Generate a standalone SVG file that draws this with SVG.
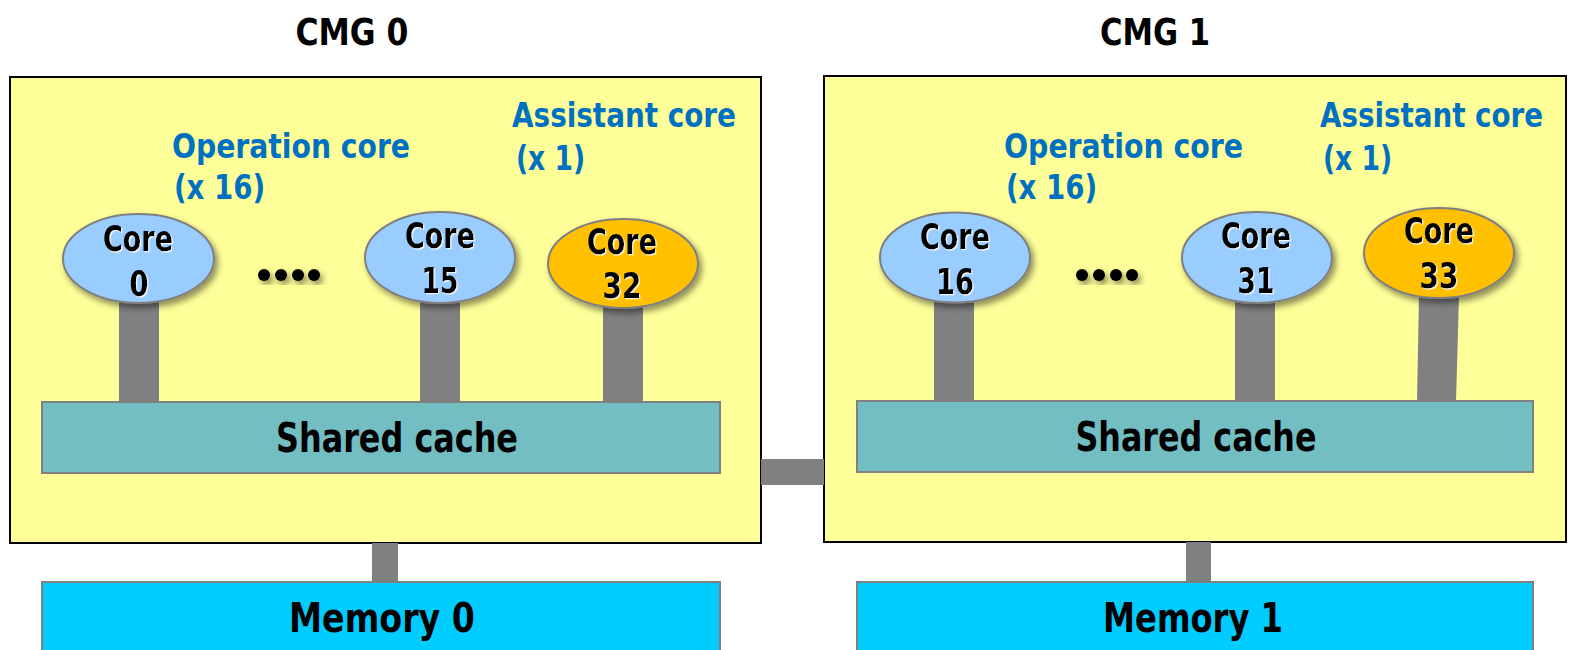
<svg xmlns="http://www.w3.org/2000/svg" width="1571" height="650" viewBox="0 0 1571 650">
  <defs>
    <filter id="shadow" x="-20%" y="-20%" width="150%" height="150%">
      <feDropShadow dx="3" dy="4" stdDeviation="3" flood-color="#000" flood-opacity="0.45"/>
    </filter>
    <filter id="glow" x="-10%" y="-10%" width="130%" height="130%">
      <feDropShadow dx="1.2" dy="1.2" stdDeviation="0.6" flood-color="#fff" flood-opacity="0.9"/>
    </filter>
    <style>
      text { font-family: "DejaVu Sans Condensed", "DejaVu Sans", "Liberation Sans", sans-serif; font-weight: bold; }
      .title { font-size: 38px; fill: #000; text-anchor: middle; }
      .label { font-size: 34px; fill: #0070C0; }
      .core-text { font-size: 35px; fill: #000; text-anchor: middle; filter: url(#glow); }
      .big { font-size: 41px; fill: #000; text-anchor: middle; }
      .cmg { fill: #FFFF99; stroke: #000; stroke-width: 2; }
      .cache { fill: #72BEC3; stroke: #808080; stroke-width: 2; }
      .memory { fill: #00CCFF; stroke: #808080; stroke-width: 2; }
      .op { fill: #99CCFF; stroke: #7F7F7F; stroke-width: 2; filter: url(#shadow); }
      .as { fill: #FFC000; stroke: #7F7F7F; stroke-width: 2; filter: url(#shadow); }
      .bus { fill: #808080; }
      .dot { fill: #000; }
    </style>
  </defs>

  <rect width="1571" height="650" fill="#fff"/>

  <!-- CMG containers -->
  <g id="cmg0">
    <rect class="cmg" x="10" y="77" width="751" height="466"/>
    <text class="title" x="352" y="45" textLength="113" lengthAdjust="spacingAndGlyphs">CMG 0</text>
    <text class="label" x="172" y="158" textLength="238" lengthAdjust="spacingAndGlyphs">Operation core</text>
    <text class="label" x="174" y="199" textLength="91" lengthAdjust="spacingAndGlyphs">(x 16)</text>
    <text class="label" x="512" y="127" textLength="224" lengthAdjust="spacingAndGlyphs">Assistant core</text>
    <text class="label" x="516" y="170" textLength="69" lengthAdjust="spacingAndGlyphs">(x 1)</text>
  </g>
  <g id="cmg1">
    <rect class="cmg" x="824" y="76" width="742" height="466"/>
    <text class="title" x="1155" y="45" textLength="110" lengthAdjust="spacingAndGlyphs">CMG 1</text>
    <text class="label" x="1004" y="158" textLength="239" lengthAdjust="spacingAndGlyphs">Operation core</text>
    <text class="label" x="1006" y="199" textLength="91" lengthAdjust="spacingAndGlyphs">(x 16)</text>
    <text class="label" x="1320" y="127" textLength="223" lengthAdjust="spacingAndGlyphs">Assistant core</text>
    <text class="label" x="1323" y="170" textLength="69" lengthAdjust="spacingAndGlyphs">(x 1)</text>
  </g>

  <!-- Bus links -->
  <g id="connectors">
    <rect class="bus" x="119" y="300" width="40" height="102"/>
    <rect class="bus" x="420" y="300" width="40" height="102"/>
    <rect class="bus" x="603" y="305" width="40" height="97"/>
    <rect class="bus" x="934" y="300" width="40" height="102"/>
    <rect class="bus" x="1235" y="300" width="40" height="102"/>
    <polygon class="bus" points="1419,295 1459,295 1456,402 1417,402"/>
    <rect class="bus" x="761" y="459" width="63" height="26"/>
    <rect class="bus" x="372" y="543" width="26" height="39"/>
    <rect class="bus" x="1186" y="542" width="25" height="40"/>
  </g>

  <!-- Shared caches -->
  <g id="cache0">
    <rect class="cache" x="42" y="402" width="678" height="71"/>
    <text class="big" x="397" y="452" textLength="242" lengthAdjust="spacingAndGlyphs">Shared cache</text>
  </g>
  <g id="cache1">
    <rect class="cache" x="857" y="401" width="676" height="71"/>
    <text class="big" x="1196" y="451" textLength="241" lengthAdjust="spacingAndGlyphs">Shared cache</text>
  </g>

  <!-- Memories -->
  <g id="memory0">
    <rect class="memory" x="42" y="582" width="678" height="70"/>
    <text class="big" x="382" y="632" textLength="186" lengthAdjust="spacingAndGlyphs">Memory 0</text>
  </g>
  <g id="memory1">
    <rect class="memory" x="857" y="582" width="676" height="70"/>
    <text class="big" x="1193" y="632" textLength="180" lengthAdjust="spacingAndGlyphs">Memory 1</text>
  </g>

  <!-- Cores -->
  <g id="core0">
    <ellipse class="op" cx="138.5" cy="258.5" rx="75.5" ry="44.5"/>
    <text class="core-text" x="138" y="251" textLength="70" lengthAdjust="spacingAndGlyphs">Core</text>
    <text class="core-text" x="139" y="296" textLength="19" lengthAdjust="spacingAndGlyphs">0</text>
  </g>
  <g id="core15">
    <ellipse class="op" cx="440" cy="257.5" rx="75" ry="45.5"/>
    <text class="core-text" x="440" y="248" textLength="70" lengthAdjust="spacingAndGlyphs">Core</text>
    <text class="core-text" x="440" y="293" textLength="37" lengthAdjust="spacingAndGlyphs">15</text>
  </g>
  <g id="core32">
    <ellipse class="as" cx="623" cy="263.5" rx="75" ry="44.5"/>
    <text class="core-text" x="622" y="254" textLength="70" lengthAdjust="spacingAndGlyphs">Core</text>
    <text class="core-text" x="622" y="298" textLength="39" lengthAdjust="spacingAndGlyphs">32</text>
  </g>
  <g id="core16">
    <ellipse class="op" cx="955" cy="257.5" rx="75" ry="45"/>
    <text class="core-text" x="955" y="249" textLength="70" lengthAdjust="spacingAndGlyphs">Core</text>
    <text class="core-text" x="955" y="294" textLength="38" lengthAdjust="spacingAndGlyphs">16</text>
  </g>
  <g id="core31">
    <ellipse class="op" cx="1257" cy="257.5" rx="75" ry="45.5"/>
    <text class="core-text" x="1256" y="248" textLength="70" lengthAdjust="spacingAndGlyphs">Core</text>
    <text class="core-text" x="1256" y="293" textLength="37" lengthAdjust="spacingAndGlyphs">31</text>
  </g>
  <g id="core33">
    <ellipse class="as" cx="1439" cy="253" rx="75" ry="45"/>
    <text class="core-text" x="1439" y="243" textLength="70" lengthAdjust="spacingAndGlyphs">Core</text>
    <text class="core-text" x="1439" y="288" textLength="39" lengthAdjust="spacingAndGlyphs">33</text>
  </g>

  <!-- Ellipsis dots between cores -->
  <g id="dots0" filter="url(#shadow)">
    <circle class="dot" cx="264" cy="275" r="6"/>
    <circle class="dot" cx="281" cy="275" r="6"/>
    <circle class="dot" cx="298" cy="275" r="6"/>
    <circle class="dot" cx="314" cy="275" r="6"/>
  </g>
  <g id="dots1" filter="url(#shadow)">
    <circle class="dot" cx="1082" cy="275" r="6"/>
    <circle class="dot" cx="1099" cy="275" r="6"/>
    <circle class="dot" cx="1116" cy="275" r="6"/>
    <circle class="dot" cx="1132" cy="275" r="6"/>
  </g>
</svg>
